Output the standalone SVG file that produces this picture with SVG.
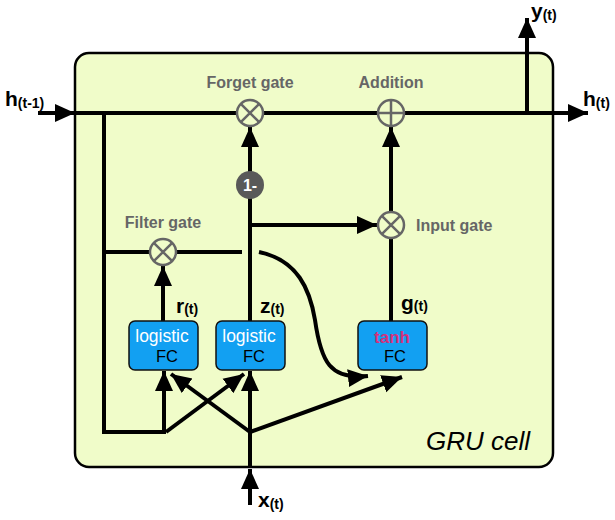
<svg xmlns="http://www.w3.org/2000/svg" width="615" height="520" viewBox="0 0 615 520">
<style>
.ln{fill:none;stroke:#000;stroke-width:4}
.ar{marker-end:url(#ah)}
.gate{fill:#f0fcc9;stroke:#666;stroke-width:2.5}
.gl{stroke:#666;stroke-width:2.5}
.glab{font-family:"Liberation Sans",Arial,sans-serif;font-weight:bold;font-size:16px;fill:#666}
.box{fill:#12a0f2;stroke:#111;stroke-width:1.5}
.lt{font-family:"Liberation Sans",Arial,sans-serif;font-size:17.5px;fill:#fff}
.fc{font-family:"Liberation Sans",Arial,sans-serif;font-size:16.5px;fill:#000}
.big{font-family:"Liberation Sans",Arial,sans-serif;font-weight:bold;font-size:21px;fill:#000}
.sub{font-size:14px}
</style>
<defs>
<marker id="ah" markerUnits="userSpaceOnUse" markerWidth="20" markerHeight="20" refX="20" refY="10" orient="auto" viewBox="0 0 20 20">
<path d="M0,1 L20,10 L0,19 z" fill="#000"/>
</marker>
</defs>
<rect x="75" y="53" width="478" height="414" rx="14" fill="#f0fcc9" stroke="#000" stroke-width="2.5"/>
<text x="530" y="450" text-anchor="end" font-family="Liberation Sans,Arial,sans-serif" font-style="italic" font-size="26" fill="#000">GRU cell</text>
<g id="connectors">
<path class="ln ar" d="M38,113 L75,113"/>
<path class="ln ar" d="M75,113 L588,113"/>
<path class="ln ar" d="M527,113 L527,18"/>
<path class="ln" d="M104,113 L104,432 L166,432"/>
<path class="ln" d="M104,252 L242,252"/>
<path class="ln ar" d="M250,321 L250,127"/>
<path class="ln ar" d="M250,225 L377,225"/>
<path class="ln" d="M391,321 L391,238"/>
<path class="ln ar" d="M391,212 L391,127"/>
<path class="ln ar" d="M163,321 L163,266"/>
<path class="ln ar" d="M164,432 L164,371"/>
<path class="ln ar" d="M166,432 L244,374"/>
<path class="ln ar" d="M250,505 L250,469"/>
<path class="ln ar" d="M250,467 L250,371"/>
<path class="ln ar" d="M250,432 L171,374"/>
<path class="ln ar" d="M250,432 L402,377"/>
<path class="ln ar" d="M259,252 C298,260 310,290 315,320 C321,362 330,380 368,376"/>
</g>
<g id="forget-gate">
<circle class="gate" cx="250" cy="113" r="13"/>
<path class="gl" d="M240.8,103.8 L259.2,122.2 M259.2,103.8 L240.8,122.2"/>
<text class="glab" x="250" y="88" text-anchor="middle">Forget gate</text>
</g>
<g id="addition">
<circle class="gate" cx="391" cy="113" r="13"/>
<path class="gl" d="M378,113 L404,113 M391,100 L391,126"/>
<text class="glab" x="391" y="88" text-anchor="middle">Addition</text>
</g>
<g id="input-gate">
<circle class="gate" cx="391" cy="225" r="13"/>
<path class="gl" d="M381.8,215.8 L400.2,234.2 M400.2,215.8 L381.8,234.2"/>
<text class="glab" x="416" y="231">Input gate</text>
</g>
<g id="filter-gate">
<circle class="gate" cx="163" cy="252" r="13"/>
<path class="gl" d="M153.8,242.8 L172.2,261.2 M172.2,242.8 L153.8,261.2"/>
<text class="glab" x="163" y="228" text-anchor="middle">Filter gate</text>
</g>
<g id="one-minus">
<circle cx="250" cy="185" r="14" fill="#595959"/>
<text x="250" y="191" text-anchor="middle" font-family="Liberation Sans,Arial,sans-serif" font-weight="bold" font-size="16" fill="#fff">1-</text>
</g>
<g id="fc-r">
<rect class="box" x="129" y="321" width="69" height="49" rx="6"/>
<text class="lt" x="162" y="342" text-anchor="middle">logistic</text>
<text class="fc" x="167" y="362" text-anchor="middle">FC</text>
</g>
<g id="fc-z">
<rect class="box" x="216" y="321" width="69" height="49" rx="6"/>
<text class="lt" x="249" y="342" text-anchor="middle">logistic</text>
<text class="fc" x="254" y="362" text-anchor="middle">FC</text>
</g>
<g id="fc-g">
<rect class="box" x="358" y="321" width="69" height="49" rx="6"/>
<text x="392" y="343" text-anchor="middle" font-family="Liberation Sans,Arial,sans-serif" font-weight="bold" font-size="17" fill="#d4307a">tanh</text>
<text class="fc" x="395" y="362" text-anchor="middle">FC</text>
</g>
<g id="labels">
<text class="big" x="5" y="106">h<tspan class="sub" dy="2">(t-1)</tspan></text>
<text class="big" x="583" y="106">h<tspan class="sub" dy="2">(t)</tspan></text>
<text class="big" x="531" y="18">y<tspan class="sub" dy="2">(t)</tspan></text>
<text class="big" x="258" y="507">x<tspan class="sub" dy="2">(t)</tspan></text>
<text class="big" x="176" y="313" font-size="20">r<tspan class="sub" dy="1">(t)</tspan></text>
<text class="big" x="260" y="313" font-size="20">z<tspan class="sub" dy="1">(t)</tspan></text>
<text class="big" x="401" y="310" font-size="20">g<tspan class="sub" dy="1">(t)</tspan></text>
</g>
</svg>
